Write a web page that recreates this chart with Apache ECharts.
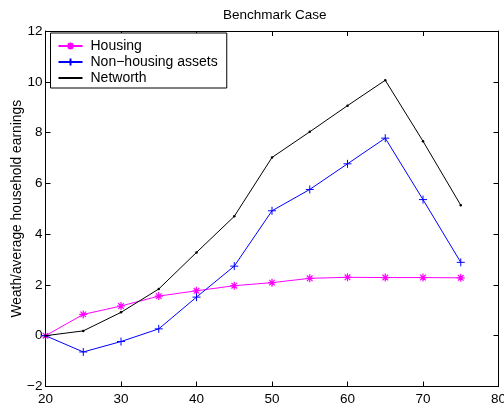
<!DOCTYPE html>
<html>
<head>
<meta charset="utf-8">
<script src="https://cdn.jsdelivr.net/npm/echarts@6/dist/echarts.min.js"></script>
<style>html,body{margin:0;padding:0;background:#fff;}#c{width:504px;height:406px;}</style>
</head>
<body>
<div id="c"></div>
<script>
var ages = [20, 25, 30, 35, 40, 45, 50, 55, 60, 65, 70, 75];
var housing = [0, 0.84, 1.17, 1.56, 1.77, 1.97, 2.09, 2.26, 2.30, 2.29, 2.29, 2.28];
var nonHousing = [0, -0.64, -0.23, 0.27, 1.52, 2.74, 4.92, 5.76, 6.77, 7.78, 5.36, 2.89];
var networth = [0, 0.19, 0.92, 1.84, 3.28, 4.70, 7.02, 8.03, 9.06, 10.06, 7.66, 5.14];
var seriesNames = ['Housing', 'Non\u2212housing assets', 'Networth'];
var xTicks = {min: 20, max: 80, interval: 10};
var yTicks = {min: -2, max: 12, interval: 2};

function pairs(vals) { return ages.map(function (a, i) { return [a, vals[i]]; }); }
var FONT = 'Liberation Sans, Arial, Helvetica, sans-serif';
function fmt(v) { return String(v).replace('-', '\u2212'); }

var asterisk = 'path://M0,-4L0,4M-4,0L4,0M-2.8,-2.8L2.8,2.8M-2.8,2.8L2.8,-2.8';
var plus = 'path://M0,-4L0,4M-4,0L4,0';

var chart = echarts.init(document.getElementById('c'), null, {renderer: 'canvas'});
var axisCommon = {
  type: 'value',
  axisLine: {show: true, onZero: false, lineStyle: {color: '#000', width: 1}},
  axisTick: {show: true, inside: true, length: 5, lineStyle: {color: '#000', width: 1}},
  splitLine: {show: false}
};
chart.setOption({
  animation: false,
  backgroundColor: '#fff',
  title: {
    text: 'Benchmark Case', left: 218, top: 3,
    textStyle: {fontFamily: FONT, fontSize: 13.5, fontWeight: 'normal', color: '#000'}
  },
  grid: {left: 45.5, right: 5.5, top: 31, bottom: 19.5, containLabel: false, outerBoundsMode: 'none'},
  legend: {
    orient: 'vertical', left: 50.5, top: 33,
    padding: [6, 9, 3, 7], itemGap: 2, itemWidth: 24, itemHeight: 9,
    borderColor: '#000', borderWidth: 1, borderRadius: 0, backgroundColor: '#fff',
    textStyle: {fontFamily: FONT, fontSize: 14, color: '#000', padding: [0, 0, 0, 3]},
    data: [
      {name: seriesNames[0]},
      {name: seriesNames[1]},
      {name: seriesNames[2], itemStyle: {opacity: 0}}
    ]
  },
  xAxis: [
    Object.assign({}, axisCommon, {
      min: xTicks.min, max: xTicks.max, interval: xTicks.interval, position: 'bottom',
      axisLabel: {show: true, margin: 6, color: '#000', fontFamily: FONT, fontSize: 13.5, formatter: fmt}
    }),
    Object.assign({}, axisCommon, {
      min: xTicks.min, max: xTicks.max, interval: xTicks.interval, position: 'top',
      axisLabel: {show: false}
    })
  ],
  yAxis: [
    Object.assign({}, axisCommon, {
      min: yTicks.min, max: yTicks.max, interval: yTicks.interval, position: 'left',
      name: 'Weath/average household earnings', nameLocation: 'middle', nameGap: 21, nameRotate: 90,
      nameMoveOverlap: false,
      nameTextStyle: {fontFamily: FONT, fontSize: 13.8, color: '#000'},
      axisLabel: {show: true, margin: 3, color: '#000', fontFamily: FONT, fontSize: 13.5, formatter: fmt}
    }),
    Object.assign({}, axisCommon, {
      min: yTicks.min, max: yTicks.max, interval: yTicks.interval, position: 'right',
      axisLabel: {show: false}
    })
  ],
  series: [
    {
      name: seriesNames[0], type: 'line', data: pairs(housing),
      symbol: asterisk, symbolSize: 8, showAllSymbol: true,
      lineStyle: {color: '#ff00ff', width: 1},
      itemStyle: {color: '#ff00ff', borderColor: '#ff00ff', borderWidth: 1.2},
      emphasis: {disabled: true}, z: 2
    },
    {
      name: seriesNames[1], type: 'line', data: pairs(nonHousing),
      symbol: plus, symbolSize: 8, showAllSymbol: true,
      lineStyle: {color: '#0000ff', width: 1},
      itemStyle: {color: '#0000ff', borderColor: '#0000ff', borderWidth: 1},
      emphasis: {disabled: true}, z: 3
    },
    {
      name: seriesNames[2], type: 'line', data: pairs(networth),
      symbol: 'circle', symbolSize: 2.5, showAllSymbol: true,
      lineStyle: {color: '#000', width: 1},
      itemStyle: {color: '#000', borderWidth: 0},
      emphasis: {disabled: true}, z: 4
    }
  ]
});
</script>
</body>
</html>
